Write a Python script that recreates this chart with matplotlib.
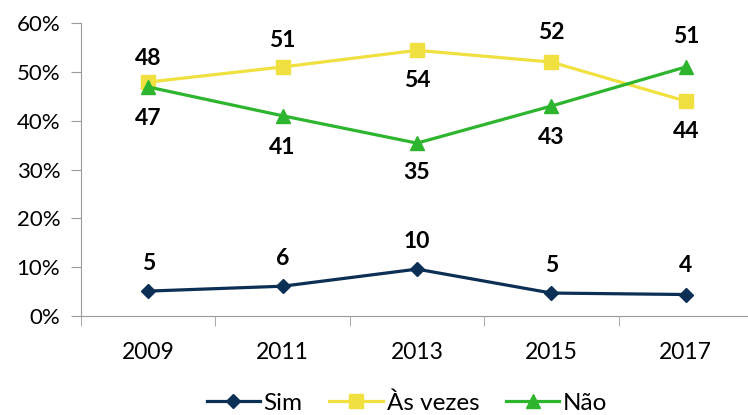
import matplotlib
matplotlib.use("Agg")
import matplotlib.pyplot as plt

years = ["2009", "2011", "2013", "2015", "2017"]
sim = [5.1, 6.1, 9.6, 4.7, 4.4]
as_vezes = [47.9, 51.0, 54.4, 52.0, 44.0]
nao = [46.9, 41.0, 35.4, 43.0, 51.0]
yticks = [0, 10, 20, 30, 40, 50, 60]

plt.rcParams['font.family'] = ['Lato', 'DejaVu Sans']

W, H = 748, 415
fig = plt.figure(figsize=(W/100, H/100), dpi=100)
left, right, top, bottom = 81, 753, 23, 316
ax = fig.add_axes([left/W, 1-bottom/H, (right-left)/W, (bottom-top)/H])

x = list(range(len(years)))
c_sim, c_av, c_nao = "#0c2f55", "#f0e040", "#2db52d"
ax.plot(x, sim, color=c_sim, lw=2.3, marker="D", ms=7.5, label="Sim", clip_on=False)
ax.plot(x, as_vezes, color=c_av, lw=2.3, marker="s", ms=9.5, label="Às vezes", clip_on=False)
ax.plot(x, nao, color=c_nao, lw=2.3, marker="^", ms=10, label="Não", clip_on=False)

ax.set_xlim(-0.5, 4.5)
ax.set_ylim(0, 60)
ax.set_yticks(yticks)
ax.set_yticklabels([f"{v}%" for v in yticks], fontsize=16)
ax.set_xticks(x)
ax.set_xticklabels(years, fontsize=16.5)
ax.set_xticks([i - 0.5 for i in range(len(years) + 1)], minor=True)
ax.tick_params(axis='x', which='major', length=0, pad=19)
ax.tick_params(axis='x', which='minor', length=7, color="#9a9a9a", direction='out')
ax.tick_params(axis='y', length=7, color="#9a9a9a", pad=8)
for s in ["top", "right"]:
    ax.spines[s].set_visible(False)
for s in ["left", "bottom"]:
    ax.spines[s].set_color("#9a9a9a")

lab = dict(fontsize=16.5, fontweight="bold", ha="center", va="center")
def annotate(vals, offsets):
    for i, (v, off) in enumerate(zip(vals, offsets)):
        ax.annotate(str(round(v)), (i, v), xytext=(0, off), textcoords="offset points", **lab)

annotate(sim, [20, 20, 20, 20, 21])
annotate(as_vezes, [17, 19, -22, 21, -22])
annotate(nao, [-23, -23, -21, -23, 22])

leg = fig.legend(loc="center", bbox_to_anchor=(407/W, 1-403/H), ncol=3, frameon=False,
                 fontsize=17.5, handlelength=2.2, columnspacing=1.1, handletextpad=0.15)

fig.savefig("out.png", dpi=100)
